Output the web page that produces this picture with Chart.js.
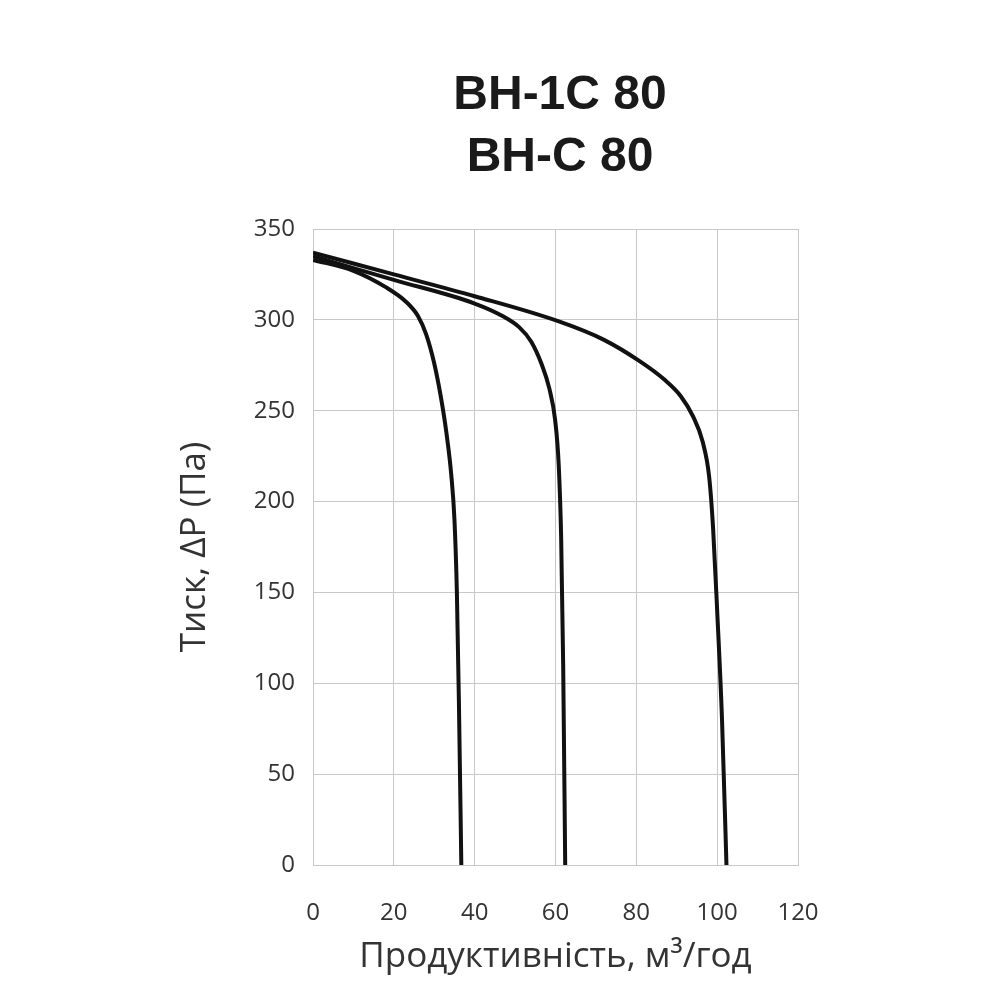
<!DOCTYPE html>
<html><head><meta charset="utf-8">
<script src="https://cdn.jsdelivr.net/npm/chart.js@4"></script>
<style>body{margin:0;background:#fff}
#t{position:absolute;left:360px;top:62px;width:400px;text-align:center;font:bold 48px "Liberation Sans",Arial,sans-serif;line-height:62px;color:#1a1a1a}
#w{position:absolute;left:0;top:0;width:1000px;height:1000px}</style></head>
<body><div id="w"><canvas id="c"></canvas></div><div id="t">ВН-1С 80<br>ВН-С 80</div>
<script>
const xTicks=[0,20,40,60,80,100,120];
const yTicks=[0,50,100,150,200,250,300,350];
const c1x=[0,10,18,23,26,28,30,31.6,33,34.2,35,35.6,36.1,36.7];
const c1y=[333,327,318,310,302,292,276,258,238,215,190,150,90,0];
const c2x=[0,20,40,47,51,54,56.5,58.5,59.9,60.8,61.4,61.9,62.4];
const c2y=[335,322,309,302,296,288,276,262,245,220,180,110,0];
const c3x=[0,20,40,61,72,81,87,91,94,96.4,98,99,100,101.2,102.3];
const c3y=[337,325,313,299,289,277,267,258,247,233,214,185,140,80,0];
const mk=(xs,ys)=>xs.map((x,i)=>({x,y:ys[i]}));
const ds=[[c1x,c1y],[c2x,c2y],[c3x,c3y]].map(([a,b])=>({data:mk(a,b),borderColor:'#111',borderWidth:4,pointRadius:0,showLine:true,cubicInterpolationMode:'monotone'}));
new Chart(document.getElementById('c'),{type:'scatter',data:{datasets:ds},
options:{responsive:true,maintainAspectRatio:false,animation:false,
layout:{padding:{left:170,top:229,right:202,bottom:18}},
plugins:{legend:{display:false},tooltip:{enabled:false}},
scales:{
x:{min:0,max:120,afterFit:s=>{s.height=117},afterBuildTicks:s=>{s.ticks=xTicks.map(v=>({value:v}))},
 grid:{color:'#c8c8c8',drawTicks:false},border:{color:'#c8c8c8'},
 ticks:{padding:34,color:'#333',font:{size:24,family:'Open Sans'}},
 title:{display:true,text:'Продуктивність, м³/год',color:'#333',font:{size:35,family:'Open Sans'},padding:{top:0}}},
y:{min:0,max:350,afterFit:s=>{s.width=313-170},afterBuildTicks:s=>{s.ticks=yTicks.map(v=>({value:v}))},
 grid:{color:'#c8c8c8',drawTicks:false},border:{color:'#c8c8c8'},
 ticks:{padding:18,color:'#333',font:{size:24,family:'Open Sans'}},
 title:{display:true,text:'Тиск, ΔP (Па)',color:'#333',font:{size:35,family:'Open Sans'},padding:{bottom:4}}}
}}});
</script></body></html>
